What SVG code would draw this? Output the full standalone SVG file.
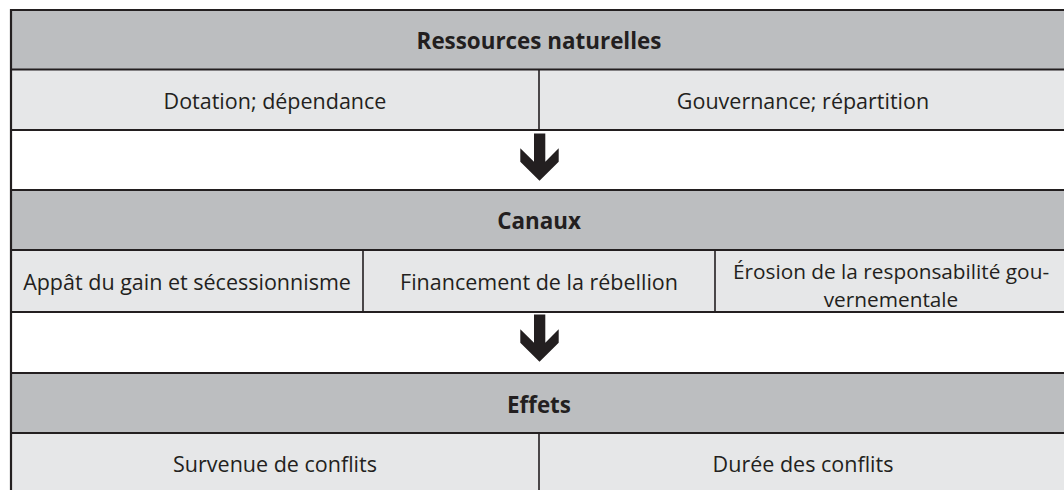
<svg xmlns="http://www.w3.org/2000/svg" width="1064" height="490" viewBox="0 0 1064 490">
<style>
.hdr{fill:#bcbec0}
.sub{fill:#e6e7e8}
.t{font-family:"Open Sans","Noto Sans",sans-serif;font-size:21.5px;fill:#231f20;text-anchor:middle}
.b{font-weight:700;font-size:22.4px}
.sm{font-size:20.8px}
.hl{stroke:#231f20;stroke-width:2.2;fill:none}
.vl{stroke:#231f20;stroke-width:1.6;fill:none}
.arr{fill:#231f20}
</style>
<rect x="0" y="0" width="1064" height="490" fill="#ffffff"/>
<g id="ressources">
<rect class="hdr" x="11" y="10" width="1056" height="59.5"/>
<text class="t b" x="539" y="48.5">Ressources naturelles</text>
</g>
<g id="dotation">
<rect class="sub" x="11" y="69.5" width="528" height="60.5"/>
<text class="t" x="275" y="108.5">Dotation; dépendance</text>
</g>
<g id="gouvernance">
<rect class="sub" x="539" y="69.5" width="528" height="60.5"/>
<text class="t" x="803" y="108.5">Gouvernance; répartition</text>
</g>
<g id="canaux">
<rect class="hdr" x="11" y="190" width="1056" height="60"/>
<text class="t b" x="539" y="229">Canaux</text>
</g>
<g id="appat">
<rect class="sub" x="11" y="250" width="352" height="62"/>
<text class="t" x="187" y="290">Appât du gain et sécessionnisme</text>
</g>
<g id="financement">
<rect class="sub" x="363" y="250" width="352" height="62"/>
<text class="t" x="539" y="290">Financement de la rébellion</text>
</g>
<g id="erosion">
<rect class="sub" x="715" y="250" width="352" height="62"/>
<text class="t sm" x="891" y="278.5">Érosion de la responsabilité gou-<tspan x="891" dy="28.4">vernementale</tspan></text>
</g>
<g id="effets">
<rect class="hdr" x="11" y="373" width="1056" height="60"/>
<text class="t b" x="539" y="412.5">Effets</text>
</g>
<g id="survenue">
<rect class="sub" x="11" y="433" width="528" height="60"/>
<text class="t" x="275" y="472">Survenue de conflits</text>
</g>
<g id="duree">
<rect class="sub" x="539" y="433" width="528" height="60"/>
<text class="t" x="803" y="472">Durée des conflits</text>
</g>
<g id="grid">
<line class="hl" x1="10" y1="10" x2="1067" y2="10" stroke="#4d4d4f"/>
<line class="hl" x1="10" y1="69.5" x2="1067" y2="69.5"/>
<line class="hl" x1="10" y1="130" x2="1067" y2="130"/>
<line class="hl" x1="10" y1="190" x2="1067" y2="190"/>
<line class="hl" x1="10" y1="250" x2="1067" y2="250"/>
<line class="hl" x1="10" y1="312" x2="1067" y2="312"/>
<line class="hl" x1="10" y1="373" x2="1067" y2="373"/>
<line class="hl" x1="10" y1="433" x2="1067" y2="433"/>
<line class="hl" x1="11" y1="9" x2="11" y2="490"/>
<line class="vl" x1="539" y1="69.5" x2="539" y2="130"/>
<line class="vl" x1="363" y1="250" x2="363" y2="312"/>
<line class="vl" x1="715" y1="250" x2="715" y2="312"/>
<line class="vl" x1="539" y1="433" x2="539" y2="490"/>
</g>
<g id="connectors">
<polygon class="arr" points="534,133.5 545.3,133.5 545.3,161.7 558.7,148.3 558.7,161.7 539.5,180.7 520.3,161.7 520.3,148.3 534,161.7"/>
<polygon class="arr" points="534,314.5 545.3,314.5 545.3,342.7 558.7,329.3 558.7,342.7 539.5,361.7 520.3,342.7 520.3,329.3 534,342.7"/>
</g>
</svg>
